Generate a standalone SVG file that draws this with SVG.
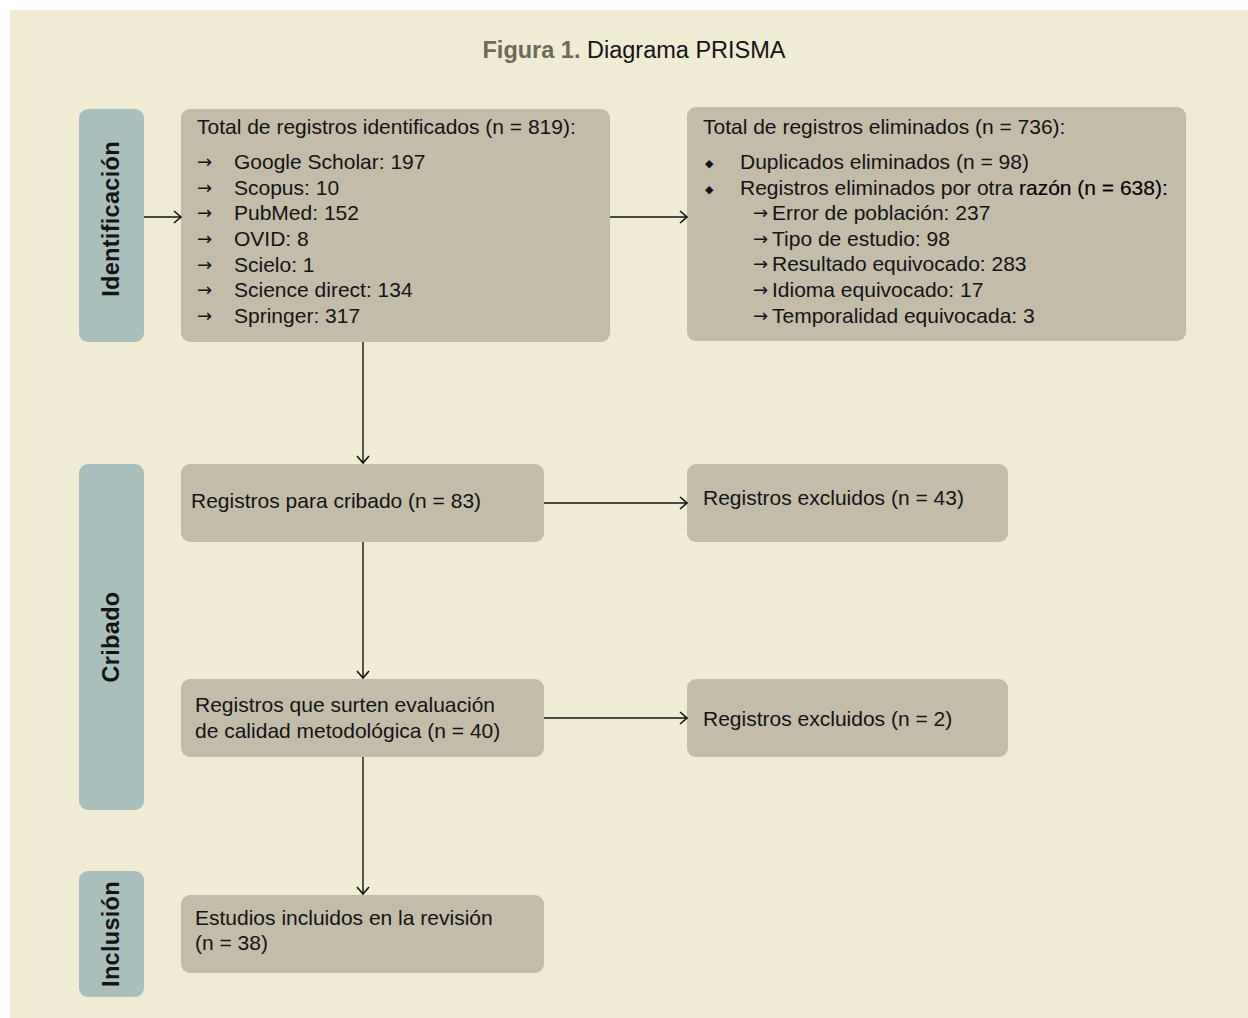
<svg xmlns="http://www.w3.org/2000/svg" width="1248" height="1018" viewBox="0 0 1248 1018">
<defs>
<style>
.bg{fill:#F0EBD3}
.box{fill:#C2BCA8}
.lab{fill:#A9BFBC}
text{font-family:"Liberation Sans",Arial,sans-serif;font-size:21px;fill:#141414}
.ar{font-family:"DejaVu Sans",sans-serif;font-size:18px}
.vl{font-weight:bold;font-size:23.5px;text-anchor:middle;letter-spacing:0.3px}
.edge{stroke:#111;stroke-width:1.4;fill:none}
</style>
<marker id="ah" markerWidth="12" markerHeight="14" refX="9" refY="7" orient="auto" markerUnits="userSpaceOnUse">
<path d="M2,1 L9,7 L2,13" fill="none" stroke="#111" stroke-width="1.6"/>
</marker>
</defs>
<rect width="1248" height="1018" fill="#fff"/>
<rect class="bg" x="10" y="10" width="1238" height="1008"/>
<g id="title">
<text x="634" y="58" text-anchor="middle" style="font-size:23.5px"><tspan font-weight="bold" fill="#6E6A5C">Figura 1.</tspan> Diagrama PRISMA</text>
</g>
<g id="lab-identificacion">
<rect class="lab" x="79" y="109" width="65" height="233" rx="9"/>
<text class="vl" transform="translate(119,219) rotate(-90)">Identificación</text>
</g>
<g id="lab-cribado">
<rect class="lab" x="79" y="464" width="65" height="346" rx="9"/>
<text class="vl" transform="translate(119,637) rotate(-90)">Cribado</text>
</g>
<g id="lab-inclusion">
<rect class="lab" x="79" y="871" width="65" height="126" rx="9"/>
<text class="vl" transform="translate(119,934) rotate(-90)">Inclusión</text>
</g>
<g id="n-identificados">
<rect class="box" x="181" y="109" width="429" height="233" rx="9"/>
<text x="197" y="134">Total de registros identificados (n = 819):</text>
<text class="ar" x="197" y="168">→</text><text x="234" y="169">Google Scholar: 197</text>
<text class="ar" x="197" y="194">→</text><text x="234" y="195">Scopus: 10</text>
<text class="ar" x="197" y="219">→</text><text x="234" y="220">PubMed: 152</text>
<text class="ar" x="197" y="245">→</text><text x="234" y="246">OVID: 8</text>
<text class="ar" x="197" y="271">→</text><text x="234" y="272">Scielo: 1</text>
<text class="ar" x="197" y="296">→</text><text x="234" y="297">Science direct: 134</text>
<text class="ar" x="197" y="322">→</text><text x="234" y="323">Springer: 317</text>
</g>
<g id="n-eliminados">
<rect class="box" x="687" y="107" width="499" height="234" rx="9"/>
<text x="703" y="134">Total de registros eliminados (n = 736):</text>
<text x="705" y="167" style="font-size:11px">◆</text><text x="740" y="169">Duplicados eliminados (n = 98)</text>
<text x="705" y="193" style="font-size:11px">◆</text><text x="740" y="195">Registros eliminados por otra <tspan fill="#000" stroke="#000" stroke-width="0.12">razón (n = 638):</tspan></text>
<text class="ar" x="753" y="219">→</text><text x="772" y="220">Error de población: 237</text>
<text class="ar" x="753" y="245">→</text><text x="772" y="246">Tipo de estudio: 98</text>
<text class="ar" x="753" y="270">→</text><text x="772" y="271">Resultado equivocado: 283</text>
<text class="ar" x="753" y="296">→</text><text x="772" y="297">Idioma equivocado: 17</text>
<text class="ar" x="753" y="322">→</text><text x="772" y="323">Temporalidad equivocada: 3</text>
</g>
<g id="n-cribado">
<rect class="box" x="181" y="464" width="363" height="78" rx="9"/>
<text x="191" y="508">Registros para cribado (n = 83)</text>
</g>
<g id="n-excl43">
<rect class="box" x="687" y="464" width="321" height="78" rx="9"/>
<text x="703" y="505">Registros excluidos (n = 43)</text>
</g>
<g id="n-calidad">
<rect class="box" x="181" y="679" width="363" height="78" rx="9"/>
<text x="195" y="712">Registros que surten evaluación</text>
<text x="195" y="738">de calidad metodológica (n = 40)</text>
</g>
<g id="n-excl2">
<rect class="box" x="687" y="679" width="321" height="78" rx="9"/>
<text x="703" y="726">Registros excluidos (n = 2)</text>
</g>
<g id="n-incluidos">
<rect class="box" x="181" y="895" width="363" height="78" rx="9"/>
<text x="195" y="925">Estudios incluidos en la revisión</text>
<text x="195" y="950">(n = 38)</text>
</g>
<g id="connectors">
<path class="edge" d="M144,217 H181" marker-end="url(#ah)"/>
<path class="edge" d="M610,217 H687" marker-end="url(#ah)"/>
<path class="edge" d="M363,342 V463" marker-end="url(#ah)"/>
<path class="edge" d="M544,503 H687" marker-end="url(#ah)"/>
<path class="edge" d="M363,542 V678" marker-end="url(#ah)"/>
<path class="edge" d="M544,718 H687" marker-end="url(#ah)"/>
<path class="edge" d="M363,757 V894" marker-end="url(#ah)"/>
</g>
</svg>
